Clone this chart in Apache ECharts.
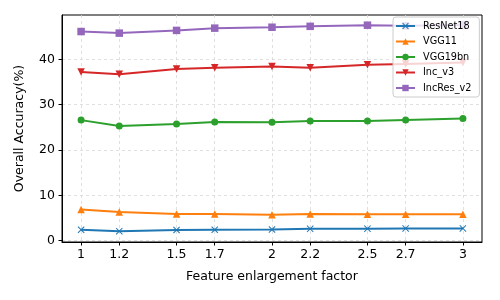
<!DOCTYPE html>
<html><head><meta charset="utf-8">
<script src="https://cdn.jsdelivr.net/npm/echarts@6/dist/echarts.min.js"></script>
<style>html,body{margin:0;padding:0;background:#fff}#c{width:500px;height:300px}</style>
</head><body><div id="c"></div>
<script>
const factors = [1, 1.2, 1.5, 1.7, 2, 2.2, 2.5, 2.7, 3];
const xTicks = [1, 1.2, 1.5, 1.7, 2, 2.2, 2.5, 2.7, 3];
const yTicks = [0, 10, 20, 30, 40];
const seriesNames = ['ResNet18', 'VGG11', 'VGG19bn', 'Inc_v3', 'IncRes_v2'];
const resnet18 = [2.4, 2.1, 2.35, 2.4, 2.45, 2.6, 2.65, 2.7, 2.7];
const vgg11 = [6.85, 6.3, 5.9, 5.9, 5.7, 5.9, 5.85, 5.8, 5.8];
const vgg19bn = [26.6, 25.3, 25.75, 26.2, 26.15, 26.4, 26.4, 26.65, 26.95];
const incV3 = [37.2, 36.7, 37.9, 38.15, 38.45, 38.15, 38.8, 39.0, 39.3];
const incResV2 = [46.15, 45.8, 46.4, 46.9, 47.1, 47.3, 47.55, 47.4, 47.6];
const colors = ['#1f77b4', '#ff7f0e', '#2ca02c', '#d62728', '#9467bd'];
const symbols = [
  'path://M1,0L5,4L9,0L10,1L6,5L10,9L9,10L5,6L1,10L0,9L4,5L0,1Z',
  'triangle',
  'circle',
  'path://M0,0L10,0L5,10Z',
  'rect'
];
const allData = [resnet18, vgg11, vgg19bn, incV3, incResV2];
const font = 'DejaVu Sans';

const chart = echarts.init(document.getElementById('c'), null, {renderer: 'canvas'});
chart.setOption({
  animation: false,
  color: colors,
  grid: {left: 62, right: 18, top: 15, bottom: 58, show: true, borderColor: '#000', borderWidth: 1, backgroundColor: 'transparent'},
  legend: {
    orient: 'vertical', left: 393, top: 17, z: 20,
    data: seriesNames,
    backgroundColor: 'rgba(255,255,255,0.8)', borderColor: '#ccc', borderWidth: 1, borderRadius: 3,
    padding: [4, 8, 4, 2],
    itemWidth: 19, itemHeight: 8, itemGap: 5.5,
    textStyle: {fontFamily: font, fontSize: 9.7, color: '#000', padding: [0, 0, 0, 3]}
  },
  xAxis: {
    type: 'value', min: 0.9, max: 3.1,
    name: 'Feature enlargement factor', nameLocation: 'middle', nameGap: 28,
    nameTextStyle: {fontFamily: font, fontSize: 12.5, color: '#000', verticalAlign: 'top'},
    axisLine: {onZero: false, lineStyle: {color: '#000', width: 1}},
    axisTick: {show: true, length: 3.5, lineStyle: {color: '#000'}, customValues: xTicks},
    axisLabel: {fontFamily: font, fontSize: 12.5, color: '#000', margin: 6, customValues: xTicks,
      formatter: v => String(v)},
    splitLine: {show: true, lineStyle: {color: '#d9d9d9', type: [3, 3], width: 0.8}}
  },
  yAxis: {
    type: 'value', min: -0.3, max: 49.8,
    name: 'Overall Accuracy(%)', nameLocation: 'middle', nameGap: 36,
    nameTextStyle: {fontFamily: font, fontSize: 12.5, color: '#000'},
    axisLine: {show: true, onZero: false, lineStyle: {color: '#000', width: 1}},
    axisTick: {show: true, length: 3.5, lineStyle: {color: '#000'}, customValues: yTicks},
    axisLabel: {fontFamily: font, fontSize: 12.5, color: '#000', margin: 7, customValues: yTicks},
    splitLine: {show: true, lineStyle: {color: '#d9d9d9', type: [3, 3], width: 0.8}}
  },
  series: seriesNames.map((n, i) => ({
    name: n, type: 'line',
    data: factors.map((f, j) => [f, allData[i][j]]),
    symbol: symbols[i], symbolSize: i === 2 ? 7 : (i === 0 ? 7 : 7.5),
    lineStyle: {width: 2, color: colors[i]},
    itemStyle: {color: colors[i]},
    z: 2
  }))
});
</script></body></html>
